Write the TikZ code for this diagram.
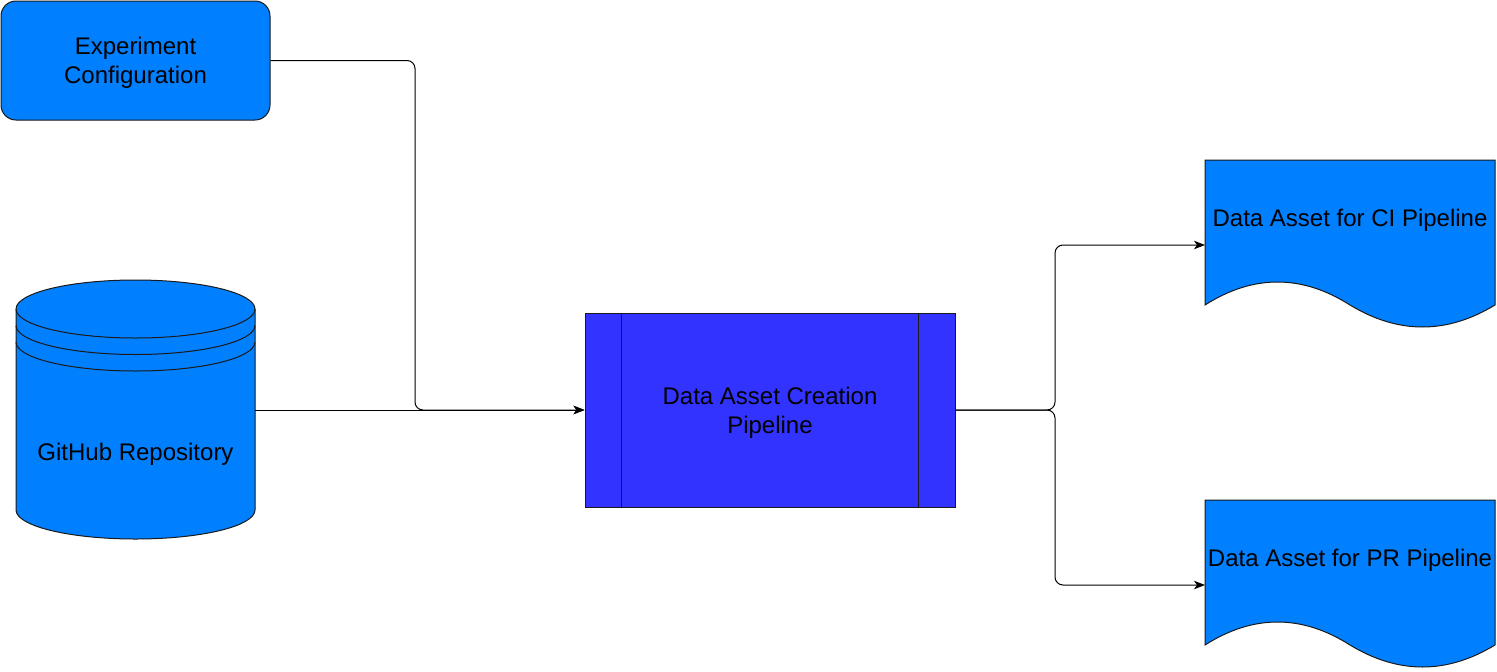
\documentclass[tikz,border=0pt]{standalone}
\usepackage{fontspec}
\setmainfont{Liberation Sans}
\usetikzlibrary{arrows.meta}
\definecolor{azure}{HTML}{007FFF}
\definecolor{procblue}{HTML}{3333FF}
\definecolor{edgegray}{HTML}{1A1A1A}
\begin{document}
\begin{tikzpicture}[x=1pt,y=1pt,
  lbl/.style={font=\fontsize{24}{29}\selectfont, align=center, text=black, inner sep=0pt},
  shapeline/.style={draw=edgegray, line width=1pt},
  conn/.style={draw=black, line width=1pt, rounded corners=8pt,
    -{Stealth[length=11pt,width=8.5pt,inset=3pt]}},
  docpic/.pic={
    \filldraw[fill=azure, shapeline] (0,0) -- (290,0) -- (290,-145)
      .. controls (241.67,-174.33) and (193.33,-174.33) .. (145,-145)
      .. controls (96.67,-114.33) and (48.33,-114.33) .. (0,-145) -- cycle;
  }]
\useasboundingbox (0,0) rectangle (1497,-672);
\fill[white] (0,0) rectangle (1497,-672);

% Experiment Configuration
\node[shapeline, fill=azure, rounded corners=15pt, minimum width=269pt,
  minimum height=119pt] (exp) at (135.5,-60.5) {};
\node[lbl] (explbl) at (135.5,-62.5) {Experiment\\Configuration};

% GitHub Repository cylinder
\filldraw[fill=azure, shapeline] (16,-309) -- (16,-510)
  arc[start angle=180, end angle=360, x radius=119.5pt, y radius=29pt]
  -- (255,-309)
  arc[start angle=0, end angle=180, x radius=119.5pt, y radius=29pt] -- cycle;
\draw[shapeline] (16,-309) arc[start angle=180, end angle=360, x radius=119.5pt, y radius=29pt];
\draw[shapeline] (16,-325.5) arc[start angle=180, end angle=360, x radius=119.5pt, y radius=29pt];
\draw[shapeline] (16,-342) arc[start angle=180, end angle=360, x radius=119.5pt, y radius=29pt];
\node[lbl] (git) at (135.5,-454) {GitHub Repository};
\coordinate (gitR) at (255,-410);

% Data Asset Creation Pipeline
\node[shapeline, fill=procblue, minimum width=370pt, minimum height=194pt] (proc) at (770,-410) {};
\draw[shapeline] ([xshift=37pt]proc.north west) -- ([xshift=37pt]proc.south west);
\draw[shapeline] ([xshift=-37pt]proc.north east) -- ([xshift=-37pt]proc.south east);
\node[lbl] (proclbl) at (770,-412.5) {Data Asset Creation\\Pipeline};

% Documents
\pic at (1205,-160) {docpic};
\node[lbl] (ci) at (1350,-220) {Data Asset for CI Pipeline};
\coordinate (ciin) at (1205,-245);
\pic at (1205,-500) {docpic};
\node[lbl] (pr) at (1350,-560) {Data Asset for PR Pipeline};
\coordinate (prin) at (1205,-585);

% Connectors
\draw[conn] (exp.east) -- (415,-60.5) -- (415,-410) -- (proc.west);
\draw[conn] (gitR) -- (proc.west);
\draw[conn] (proc.east) -- (1055,-410) -- (1055,-245) -- (ciin);
\draw[conn] (proc.east) -- (1055,-410) -- (1055,-585) -- (prin);
\end{tikzpicture}
\end{document}
